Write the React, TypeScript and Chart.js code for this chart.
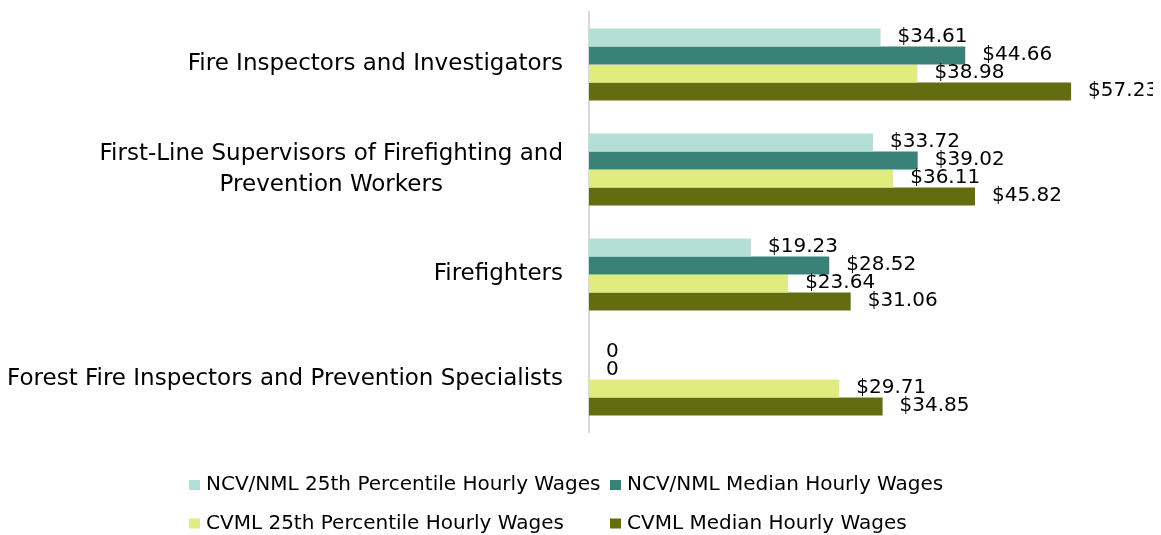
import React, { useEffect, useRef } from "react";
import { Chart, registerables } from "chart.js";

Chart.register(...registerables);

const categories: string[][] = [
  ["Fire Inspectors and Investigators"],
  ["First-Line Supervisors of Firefighting and", "Prevention Workers"],
  ["Firefighters"],
  ["Forest Fire Inspectors and Prevention Specialists"],
];

const seriesNames = [
  "NCV/NML 25th Percentile Hourly Wages",
  "NCV/NML Median Hourly Wages",
  "CVML 25th Percentile Hourly Wages",
  "CVML Median Hourly Wages",
];

const ncv25: number[] = [34.61, 33.72, 19.23, 0];
const ncvMedian: number[] = [44.66, 39.02, 28.52, 0];
const cvml25: number[] = [38.98, 36.11, 23.64, 29.71];
const cvmlMedian: number[] = [57.23, 45.82, 31.06, 34.85];

const colors = ["#b4dfd6", "#3a8278", "#e0ec7e", "#646c10"];

const FONT = "'DejaVu Sans', sans-serif";

const labelPlugin = {
  id: "customLabels",
  afterDatasetsDraw(chart: any) {
    const ctx = chart.ctx;
    ctx.save();
    ctx.font = `20px ${FONT}`;
    ctx.fillStyle = "#000";
    ctx.textAlign = "left";
    ctx.textBaseline = "middle";
    chart.data.datasets.forEach((ds: any, di: number) => {
      const meta = chart.getDatasetMeta(di);
      meta.data.forEach((el: any, i: number) => {
        const v = ds.data[i];
        const txt = v === 0 ? "0" : "$" + v.toFixed(2);
        ctx.fillText(txt, el.x + 17, el.y - 1);
      });
    });
    ctx.restore();
  },
  afterDraw(chart: any) {
    const ctx = chart.ctx;
    const yScale = chart.scales.y;
    const area = chart.chartArea;
    ctx.save();
    // category labels
    ctx.font = `23px ${FONT}`;
    ctx.fillStyle = "#000";
    ctx.textBaseline = "middle";
    ctx.textAlign = "center";
    const lineH = 31;
    categories.forEach((lines, i) => {
      const cy = yScale.getPixelForTick(i);
      const widths = lines.map((l) => ctx.measureText(l).width);
      const maxW = Math.max(...widths);
      const right = area.left - 26;
      const cx = right - maxW / 2;
      const startY = cy - ((lines.length - 1) * lineH) / 2;
      lines.forEach((l, j) => ctx.fillText(l, cx, startY + j * lineH));
    });
    // legend
    ctx.font = `20px ${FONT}`;
    ctx.textAlign = "left";
    const cols = [181, 602];
    const rows = [477, 515.5];
    seriesNames.forEach((name, i) => {
      const x = cols[i % 2];
      const y = rows[Math.floor(i / 2)];
      ctx.fillStyle = colors[i];
      ctx.fillRect(x, y - 5, 11, 10);
      ctx.fillStyle = "#000";
      ctx.fillText(name, x + 17, y);
    });
    ctx.restore();
  },
};

export default function App() {
  const ref = useRef<HTMLCanvasElement>(null);
  useEffect(() => {
    if (!ref.current) return;
    const chart = new Chart(ref.current, {
      type: "bar",
      data: {
        labels: categories.map((c) => c.join(" ")),
        datasets: [ncv25, ncvMedian, cvml25, cvmlMedian].map((d, i) => ({
          label: seriesNames[i],
          data: d,
          backgroundColor: colors[i],
          borderWidth: 0,
          categoryPercentage: 0.686,
          barPercentage: 1.0,
        })),
      },
      options: {
        indexAxis: "y",
        animation: false,
        responsive: false,
        maintainAspectRatio: false,
        layout: { padding: { top: 4, bottom: 106, left: 0, right: 8 } },
        plugins: {
          legend: { display: false },
          tooltip: { enabled: false },
        },
        scales: {
          x: {
            display: false,
            min: 0,
            max: 66,
          },
          y: {
            grid: { display: false, drawTicks: false },
            border: { display: true, color: "#d9d9d9", width: 2 },
            ticks: { display: false },
            afterFit: (scale: any) => {
              scale.width = 581;
            },
          },
        },
      },
      plugins: [labelPlugin],
    });
    return () => chart.destroy();
  }, []);
  return (
    <div style={{ width: 1145, height: 530 }}>
      <canvas ref={ref} width={1145} height={530} />
    </div>
  );
}
